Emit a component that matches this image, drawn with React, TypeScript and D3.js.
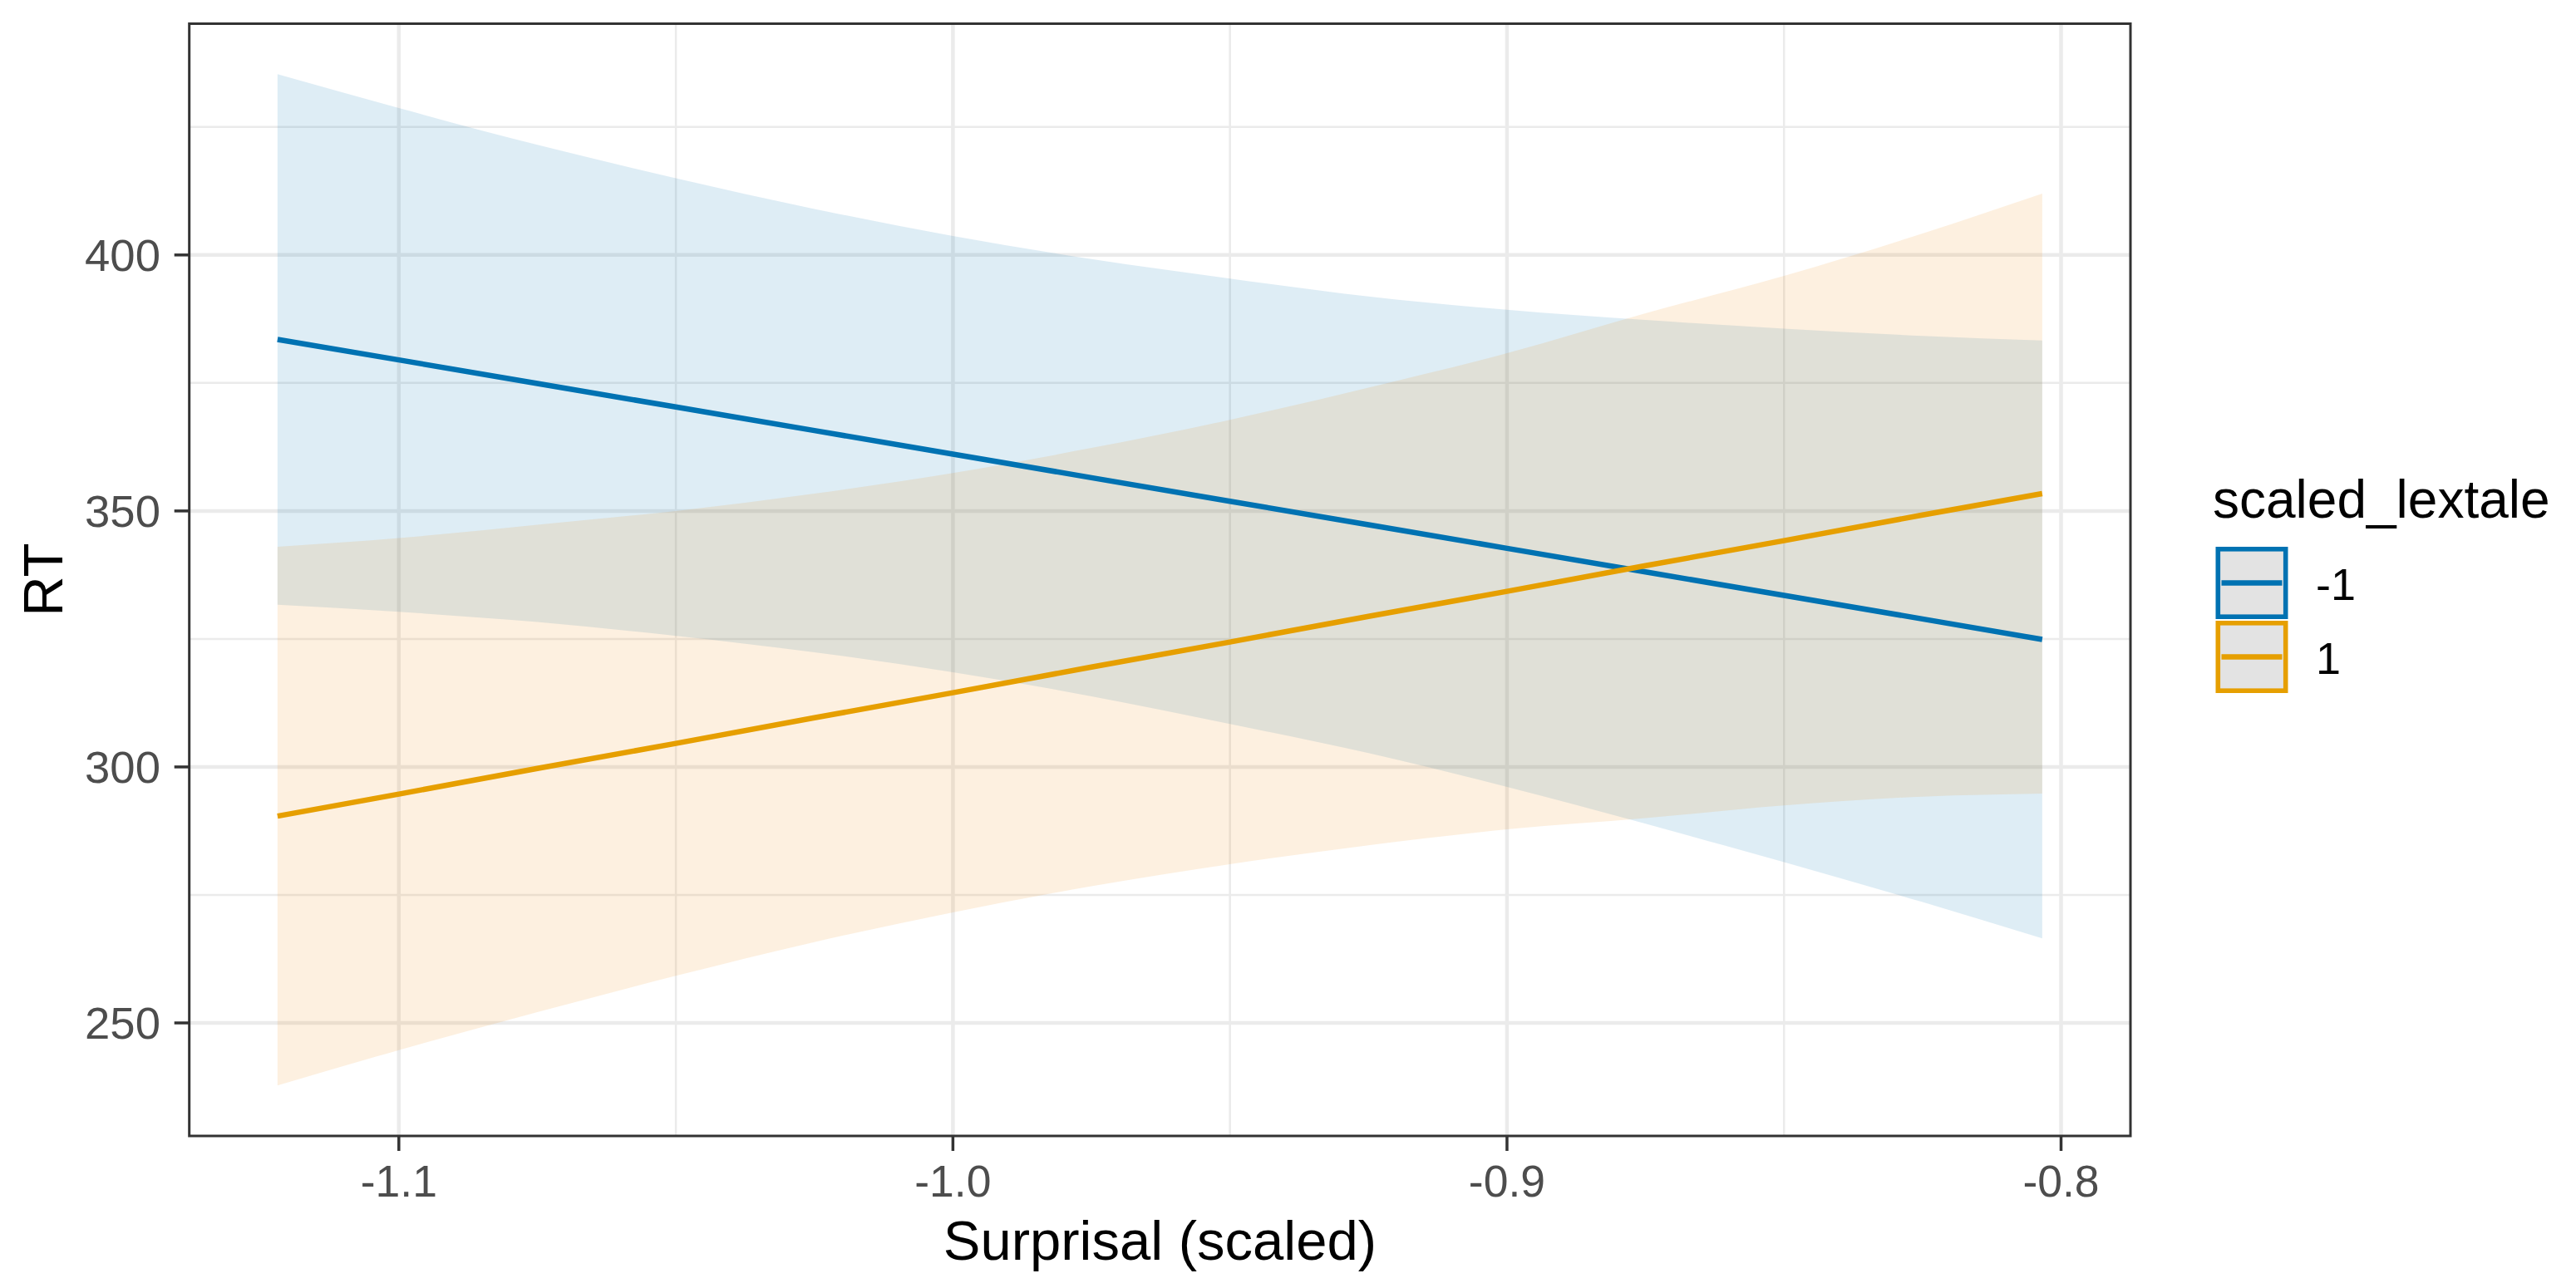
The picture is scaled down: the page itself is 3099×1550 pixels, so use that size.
import React from "react";
import * as d3 from "d3";

// ---- data ----
const surprisal = [-1.1219, -1.1, -1.075, -1.05, -1.025, -1.0, -0.975, -0.95, -0.925, -0.9, -0.875, -0.85, -0.825, -0.8034];

const fitNeg = [383.5, 379.5, 374.9, 370.3, 365.7, 361.1, 356.5, 351.9, 347.3, 342.7, 338.1, 333.5, 328.9, 324.9];
const upperNeg = [435.3, 428.7, 421.5, 415.0, 409.0, 403.7, 399.2, 395.4, 391.9, 389.3, 387.3, 385.6, 384.2, 383.3];
const lowerNeg = [331.7, 330.3, 328.3, 325.6, 322.4, 318.5, 313.8, 308.4, 302.7, 296.1, 288.9, 281.4, 273.6, 266.5];

const fitPos = [290.4, 294.7, 299.7, 304.6, 309.6, 314.5, 319.5, 324.4, 329.4, 334.3, 339.3, 344.2, 349.2, 353.4];
const upperPos = [343.0, 344.7, 347.3, 350.0, 353.4, 357.4, 362.3, 367.8, 374.1, 380.8, 388.6, 395.9, 404.2, 412.0];
const lowerPos = [237.8, 244.7, 252.1, 259.2, 265.8, 271.6, 276.7, 281.0, 284.7, 287.8, 290.0, 292.5, 294.2, 294.8];

const groups = ["-1", "1"];
const lineColors = ["#0072B2", "#E69F00"];
const ribbonColors = ["#0072B2", "#F08C11"];

const xMajor = [-1.1, -1.0, -0.9, -0.8];
const xMinor = [-1.05, -0.95, -0.85];
const yMajor = [250, 300, 350, 400];
const yMinor = [275, 325, 375, 425];

const xTitle = "Surprisal (scaled)";
const yTitle = "RT";
const legendTitle = "scaled_lextale";

// ---- layout ----
const W = 3099;
const H = 1550;
const panel = { left: 227.7, right: 2563, top: 28.5, bottom: 1367 };
const FONT = "'Liberation Sans', Arial, Helvetica, sans-serif";

type Row = { x: number; fit: number; lo: number; hi: number };

function rows(fit: number[], lo: number[], hi: number[]): Row[] {
  return surprisal.map((x, i) => ({ x, fit: fit[i], lo: lo[i], hi: hi[i] }));
}

export default function App() {
  const series = [rows(fitNeg, lowerNeg, upperNeg), rows(fitPos, lowerPos, upperPos)];

  const xExt = d3.extent(surprisal) as [number, number];
  const xPad = (xExt[1] - xExt[0]) * 0.05;
  const allY = [...upperNeg, ...lowerNeg, ...upperPos, ...lowerPos];
  const yExt = d3.extent(allY) as [number, number];
  const yPad = (yExt[1] - yExt[0]) * 0.05;

  const x = d3.scaleLinear().domain([xExt[0] - xPad, xExt[1] + xPad]).range([panel.left, panel.right]);
  const y = d3.scaleLinear().domain([yExt[0] - yPad, yExt[1] + yPad]).range([panel.bottom, panel.top]);

  const area = d3
    .area<Row>()
    .x((d) => x(d.x))
    .y0((d) => y(d.lo))
    .y1((d) => y(d.hi))
    .curve(d3.curveMonotoneX);
  const line = d3
    .line<Row>()
    .x((d) => x(d.x))
    .y((d) => y(d.fit));

  const fmtX = (v: number) => d3.format(".1f")(v).replace("\u2212", "-");
  const gridCol = "#EBEBEB";
  const tickCol = "#333333";
  const labCol = "#4D4D4D";

  // legend geometry
  const legX = 2665.5;
  const keyW = 87;
  const keyH = 89;
  const keyTop = 658;
  const keyStroke = 5.6;

  return (
    <svg
      width={W}
      height={H}
      viewBox={`0 0 ${W} ${H}`}
      style={{ position: "absolute", left: 0, top: 0, background: "#fff" }}
      fontFamily={FONT}
    >
      <rect x={0} y={0} width={W} height={H} fill="#fff" />
      {/* grid */}
      <g>
        {yMinor.map((v) => (
          <line key={"ym" + v} x1={panel.left} x2={panel.right} y1={y(v)} y2={y(v)} stroke={gridCol} strokeWidth={2.5} />
        ))}
        {xMinor.map((v) => (
          <line key={"xm" + v} y1={panel.top} y2={panel.bottom} x1={x(v)} x2={x(v)} stroke={gridCol} strokeWidth={2.5} />
        ))}
        {yMajor.map((v) => (
          <line key={"yM" + v} x1={panel.left} x2={panel.right} y1={y(v)} y2={y(v)} stroke={gridCol} strokeWidth={4.5} />
        ))}
        {xMajor.map((v) => (
          <line key={"xM" + v} y1={panel.top} y2={panel.bottom} x1={x(v)} x2={x(v)} stroke={gridCol} strokeWidth={4.5} />
        ))}
      </g>
      {/* ribbons */}
      <g>
        {series.map((s, i) => (
          <path key={"r" + i} d={area(s) || ""} fill={ribbonColors[i]} fillOpacity={0.13} stroke="none" />
        ))}
      </g>
      {/* lines */}
      <g>
        {series.map((s, i) => (
          <path key={"l" + i} d={line(s) || ""} fill="none" stroke={lineColors[i]} strokeWidth={6.5} strokeLinecap="butt" />
        ))}
      </g>
      {/* panel border */}
      <rect
        x={panel.left}
        y={panel.top}
        width={panel.right - panel.left}
        height={panel.bottom - panel.top}
        fill="none"
        stroke={tickCol}
        strokeWidth={3}
      />
      {/* x axis */}
      <g>
        {xMajor.map((v) => (
          <g key={"xt" + v}>
            <line x1={x(v)} x2={x(v)} y1={panel.bottom} y2={panel.bottom + 18} stroke={tickCol} strokeWidth={3.5} />
            <text x={x(v)} y={1440} textAnchor="middle" fontSize={53.5} fill={labCol}>
              {fmtX(v)}
            </text>
          </g>
        ))}
        <text x={(panel.left + panel.right) / 2} y={1516} textAnchor="middle" fontSize={67} fill="#000">
          {xTitle}
        </text>
      </g>
      {/* y axis */}
      <g>
        {yMajor.map((v) => (
          <g key={"yt" + v}>
            <line x1={panel.left - 18} x2={panel.left} y1={y(v)} y2={y(v)} stroke={tickCol} strokeWidth={3.5} />
            <text x={193} y={y(v) + 19.5} textAnchor="end" fontSize={54.5} fill={labCol}>
              {v}
            </text>
          </g>
        ))}
        <text
          transform={`translate(75,${(panel.top + panel.bottom) / 2}) rotate(-90)`}
          textAnchor="middle"
          fontSize={67}
          fill="#000"
        >
          {yTitle}
        </text>
      </g>
      {/* legend */}
      <g>
        <text x={2662} y={622.5} fontSize={64} fill="#000">
          {legendTitle}
        </text>
        {groups.map((g, i) => {
          const top = keyTop + i * keyH;
          return (
            <g key={"k" + g}>
              <rect
                x={legX + keyStroke / 2}
                y={top + keyStroke / 2}
                width={keyW - keyStroke}
                height={keyH - keyStroke - 2}
                fill="#E3E3E3"
                stroke={lineColors[i]}
                strokeWidth={keyStroke}
              />
              <line
                x1={legX + 7}
                x2={legX + keyW - 7}
                y1={top + (keyH - 2) / 2}
                y2={top + (keyH - 2) / 2}
                stroke={lineColors[i]}
                strokeWidth={6.5}
              />
              <text x={2786} y={top + 63.5} fontSize={54} fill="#000">
                {g}
              </text>
            </g>
          );
        })}
      </g>
    </svg>
  );
}
